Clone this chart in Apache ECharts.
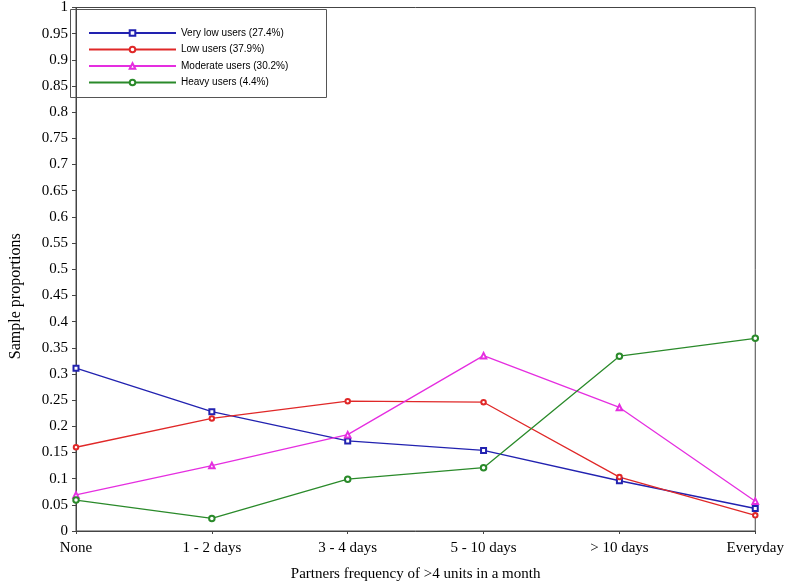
<!DOCTYPE html>
<html>
<head>
<meta charset="utf-8">
<script src="https://cdn.jsdelivr.net/npm/echarts@6/dist/echarts.min.js"></script>
<style>html,body{margin:0;padding:0;background:#fff}#c{width:787px;height:587px}</style>
</head>
<body>
<div id="c"></div>
<script>
var categories = ['None', '1 - 2 days', '3 - 4 days', '5 - 10 days', '> 10 days', 'Everyday'];
var veryLow = [0.311, 0.228, 0.172, 0.154, 0.096, 0.043];
var low = [0.160, 0.215, 0.248, 0.246, 0.103, 0.030];
var moderate = [0.069, 0.125, 0.184, 0.335, 0.236, 0.057];
var heavy = [0.059, 0.024, 0.099, 0.121, 0.334, 0.368];
var seriesNames = ['Very low users (27.4%)', 'Low users (37.9%)', 'Moderate users (30.2%)', 'Heavy users (4.4%)'];

var serif = 'Liberation Serif, Times New Roman, serif';
var chart = echarts.init(document.getElementById('c'));
function mk(name, data, color, sym, size) {
  return {
    name: name, type: 'line', data: data, symbol: sym, symbolSize: size,
    itemStyle: { color: color, borderWidth: 1.2 },
    lineStyle: { color: color, width: 1.3 },
    emphasis: { disabled: true }, animation: false
  };
}
chart.setOption({
  animation: false,
  grid: { left: 66, right: 28, top: 5, bottom: 50, show: true, borderColor: '#444', borderWidth: 1, backgroundColor: 'transparent' },
  legend: {
    orient: 'vertical', left: 88, top: 27, itemWidth: 87, itemHeight: 7, itemGap: 4.5,
    padding: 0,
    textStyle: { fontFamily: 'Liberation Sans, Arial, sans-serif', fontSize: 10, color: '#000', lineHeight: 12 },
    data: seriesNames
  },
  graphic: [{ type: 'rect', shape: { x: 70.5, y: 9.5, width: 256, height: 88 }, style: { fill: 'none', stroke: '#555', lineWidth: 1 }, silent: true }],
  xAxis: {
    type: 'category', data: categories, boundaryGap: false,
    axisLine: { lineStyle: { color: '#444' } },
    axisTick: { show: true, alignWithLabel: true, length: 3, lineStyle: { color: '#444' } },
    axisLabel: { fontFamily: serif, fontSize: 15, color: '#000', margin: 10 },
    name: 'Partners frequency of >4 units in a month', nameLocation: 'middle', nameGap: 36,
    nameTextStyle: { fontFamily: serif, fontSize: 15, color: '#000' },
    splitLine: { show: false }
  },
  yAxis: {
    type: 'value', min: 0, max: 1, interval: 0.05,
    axisLine: { show: true, lineStyle: { color: '#444' } },
    axisTick: { show: true, length: 4, lineStyle: { color: '#444' } },
    axisLabel: { fontFamily: serif, fontSize: 15, color: '#000', margin: 8 },
    splitLine: { show: false },
    name: 'Sample proportions', nameLocation: 'middle', nameGap: 52,
    nameTextStyle: { fontFamily: serif, fontSize: 16, color: '#000', padding: [0, 54, 0, 0] }
  },
  series: [
    mk(seriesNames[0], veryLow, '#2222b0', 'emptyRect', 5),
    mk(seriesNames[1], low, '#e02828', 'emptyCircle', 4.5),
    mk(seriesNames[2], moderate, '#e52ee0', 'emptyTriangle', 5.5),
    mk(seriesNames[3], heavy, '#2a8a2a', 'emptyCircle', 5.5)
  ]
});
</script>
</body>
</html>
